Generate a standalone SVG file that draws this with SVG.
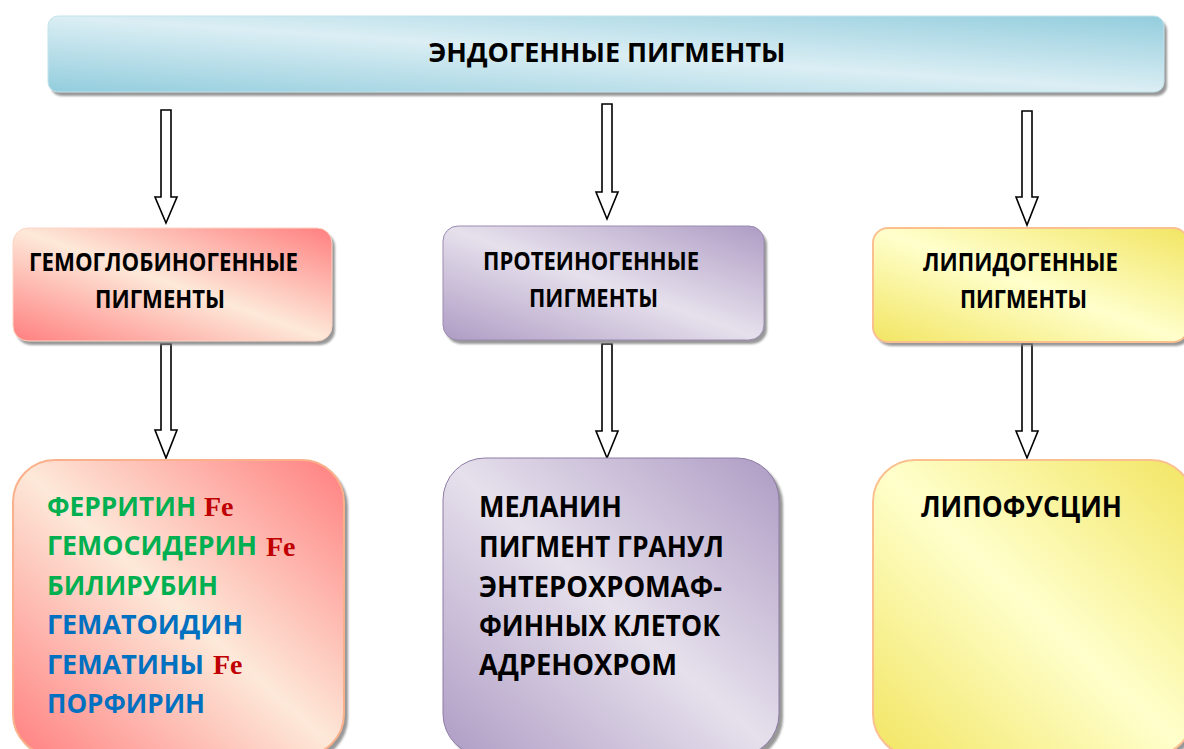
<svg xmlns="http://www.w3.org/2000/svg" width="1184" height="749" viewBox="0 0 1184 749">
<defs>
<linearGradient id="gBlue" x1="0" y1="1" x2="1" y2="0">
<stop offset="0" stop-color="#93cddd"/><stop offset="0.5" stop-color="#dbeef4"/><stop offset="1" stop-color="#93cddd"/>
</linearGradient>
<linearGradient id="gRed" x1="0" y1="1" x2="1" y2="0">
<stop offset="0" stop-color="#ff7f7f"/><stop offset="0.5" stop-color="#fde9d9"/><stop offset="1" stop-color="#ff7f7f"/>
</linearGradient>
<linearGradient id="gPurple" x1="0" y1="1" x2="1" y2="0">
<stop offset="0" stop-color="#ae9cc4"/><stop offset="0.5" stop-color="#e6e0ec"/><stop offset="1" stop-color="#ae9cc4"/>
</linearGradient>
<linearGradient id="gYellow" x1="0" y1="1" x2="1" y2="0">
<stop offset="0" stop-color="#f2e562"/><stop offset="0.5" stop-color="#ffffcc"/><stop offset="1" stop-color="#f2e562"/>
</linearGradient>
<filter id="blur" x="-5%" y="-5%" width="110%" height="110%"><feGaussianBlur stdDeviation="1"/></filter>
</defs>
<style>
.sh{fill:#7f7f7f;opacity:0.8;filter:url(#blur)}
.t{font-family:"Open Sans","Noto Sans","DejaVu Sans",sans-serif;font-weight:bold;fill:#000}
.g{fill:#00b050}
.b{fill:#0070c0}
.fe{font-family:"Liberation Serif","Times New Roman",serif;font-weight:bold;fill:#c00000;font-size:28px}
.arr{fill:#fff;stroke:#000;stroke-width:1.6;stroke-linejoin:miter}
</style>
<rect width="1184" height="749" fill="#fff"/>

<g id="banner">
<rect class="sh" x="51" y="20" width="1116" height="76" rx="10"/>
<rect x="48" y="16" width="1116" height="76" rx="10" fill="url(#gBlue)" stroke="#c3e3ec" stroke-width="1"/>
<text class="t" x="607" y="62" font-size="27" text-anchor="middle" textLength="357" lengthAdjust="spacingAndGlyphs">ЭНДОГЕННЫЕ ПИГМЕНТЫ</text>
</g>

<g id="connectors">
<polygon class="arr" points="161,110 171,110 171,197 177,197 166,223 155,197 161,197"/>
<polygon class="arr" points="602,104 612,104 612,192 618,192 607,219 596,192 602,192"/>
<polygon class="arr" points="1022,111 1032,111 1032,197 1038,197 1027,225 1016,197 1022,197"/>
<polygon class="arr" points="161,344 171,344 171,430 177,430 166,458 155,430 161,430"/>
<polygon class="arr" points="602,344 612,344 612,431 618,431 607,458 596,431 602,431"/>
<polygon class="arr" points="1022,344 1032,344 1032,431 1038,431 1027,458 1016,431 1022,431"/>
</g>

<g id="hemo">
<rect class="sh" x="16" y="232" width="319" height="113" rx="15"/>
<rect x="13" y="228" width="319" height="113" rx="15" fill="url(#gRed)" stroke="#fcd5c4" stroke-width="1"/>
<text class="t" x="29" y="271" font-size="25" textLength="269" lengthAdjust="spacingAndGlyphs">ГЕМОГЛОБИНОГЕННЫЕ</text>
<text class="t" x="95" y="308" font-size="25" textLength="130" lengthAdjust="spacingAndGlyphs">ПИГМЕНТЫ</text>
</g>

<g id="protein">
<rect class="sh" x="446" y="230" width="321" height="114" rx="15"/>
<rect x="443" y="226" width="321" height="114" rx="15" fill="url(#gPurple)" stroke="#9b8bb0" stroke-width="1"/>
<text class="t" x="483" y="270" font-size="25" textLength="216" lengthAdjust="spacingAndGlyphs">ПРОТЕИНОГЕННЫЕ</text>
<text class="t" x="529" y="307" font-size="25" textLength="129" lengthAdjust="spacingAndGlyphs">ПИГМЕНТЫ</text>
</g>

<g id="lipid">
<rect class="sh" x="876" y="232" width="315" height="114" rx="15"/>
<rect x="873" y="228" width="315" height="114" rx="15" fill="url(#gYellow)" stroke="#fac090" stroke-width="2"/>
<text class="t" x="923" y="271" font-size="25" textLength="195" lengthAdjust="spacingAndGlyphs">ЛИПИДОГЕННЫЕ</text>
<text class="t" x="960" y="308" font-size="25" textLength="127" lengthAdjust="spacingAndGlyphs">ПИГМЕНТЫ</text>
</g>

<g id="hemo-list">
<rect class="sh" x="17" y="464" width="331" height="296" rx="42"/>
<rect x="13" y="460" width="331" height="296" rx="42" fill="url(#gRed)" stroke="#fab08a" stroke-width="2"/>
<text class="t g" x="47" y="516" font-size="27" textLength="149" lengthAdjust="spacingAndGlyphs">ФЕРРИТИН</text>
<text class="fe" x="204" y="516">Fe</text>
<text class="t g" x="47" y="555" font-size="27" textLength="210" lengthAdjust="spacingAndGlyphs">ГЕМОСИДЕРИН</text>
<text class="fe" x="266" y="556">Fe</text>
<text class="t g" x="47" y="595" font-size="27" textLength="171" lengthAdjust="spacingAndGlyphs">БИЛИРУБИН</text>
<text class="t b" x="47" y="634" font-size="27" textLength="196" lengthAdjust="spacingAndGlyphs">ГЕМАТОИДИН</text>
<text class="t b" x="47" y="674" font-size="27" textLength="157" lengthAdjust="spacingAndGlyphs">ГЕМАТИНЫ</text>
<text class="fe" x="213" y="674">Fe</text>
<text class="t b" x="47" y="713" font-size="27" textLength="158" lengthAdjust="spacingAndGlyphs">ПОРФИРИН</text>
</g>

<g id="protein-list">
<rect class="sh" x="447" y="462" width="336" height="298" rx="42"/>
<rect x="443" y="458" width="336" height="298" rx="42" fill="url(#gPurple)" stroke="#8e7ca6" stroke-width="1"/>
<text class="t" x="479" y="517" font-size="28" textLength="143" lengthAdjust="spacingAndGlyphs">МЕЛАНИН</text>
<text class="t" x="479" y="557" font-size="28" textLength="245" lengthAdjust="spacingAndGlyphs">ПИГМЕНТ ГРАНУЛ</text>
<text class="t" x="479" y="597" font-size="28" textLength="243" lengthAdjust="spacingAndGlyphs">ЭНТЕРОХРОМАФ-</text>
<text class="t" x="479" y="636" font-size="28" textLength="241" lengthAdjust="spacingAndGlyphs">ФИННЫХ КЛЕТОК</text>
<text class="t" x="479" y="675" font-size="28" textLength="198" lengthAdjust="spacingAndGlyphs">АДРЕНОХРОМ</text>
</g>

<g id="lipofuscin">
<rect class="sh" x="877" y="464" width="320" height="296" rx="42"/>
<rect x="873" y="460" width="320" height="296" rx="42" fill="url(#gYellow)" stroke="#fac090" stroke-width="2"/>
<text class="t" x="921" y="517" font-size="28" textLength="201" lengthAdjust="spacingAndGlyphs">ЛИПОФУСЦИН</text>
</g>
</svg>
